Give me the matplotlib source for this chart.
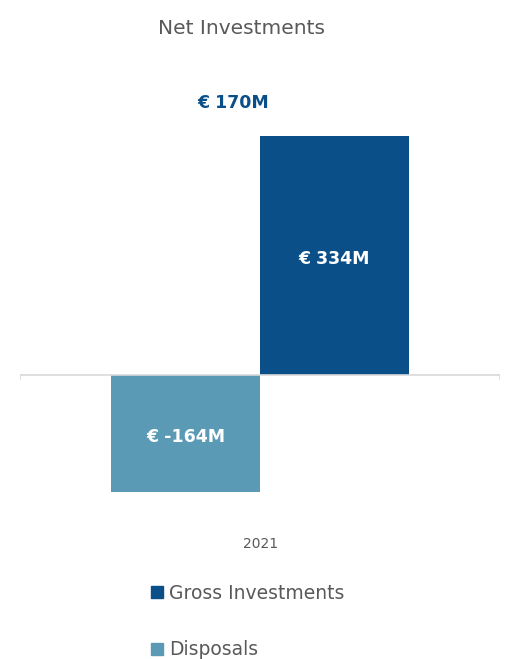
import matplotlib
matplotlib.use("Agg")
import matplotlib.pyplot as plt
from matplotlib.patches import Patch

plt.rcParams['font.family'] = ['DejaVu Sans']

category = "2021"
series = ["Disposals", "Gross Investments"]
values = [-164, 334]
colors = ["#5a9ab5", "#0a4f87"]
net = sum(values)

fig = plt.figure(figsize=(5.1, 6.59), dpi=100)
ax = fig.add_axes([20 / 510, 159 / 659, 480 / 510, 440 / 659])

width = 0.31
offsets = [-width / 2, width / 2]
for name, v, c, off in zip(series, values, colors, offsets):
    ax.bar(0.5 + off, v, width=width, color=c, label=name)
    ax.text(0.5 + off, v / 2 - 5, "€ %dM" % v, ha="center", va="center",
            color="white", fontsize=12.5, fontweight="bold")

ax.text(0.444, 380, "€ %dM" % net, ha="center", va="center",
        color="#0a4f87", fontsize=12.5, fontweight="bold")

ax.set_xlim(0, 1)
ax.set_ylim(-174.7, 440.2)
ax.axhline(0, color="#d9d9d9", lw=1.2)
ax.plot([0, 0], [0, -6], color="#d9d9d9", lw=1.2)
ax.plot([1, 1], [0, -6], color="#d9d9d9", lw=1.2)
for s in ax.spines.values():
    s.set_visible(False)
ax.set_xticks([])
ax.set_yticks([])

fig.text(261 / 510, 1 - 544 / 659, category, ha="center", va="center",
         color="#595959", fontsize=10)
fig.text(242 / 510, 1 - 28 / 659, "Net Investments", ha="center", va="center",
         color="#595959", fontsize=14.5)

handles = [Patch(color=colors[1], label=series[1]),
           Patch(color=colors[0], label=series[0])]
fig.legend(handles=handles, loc="upper left",
           bbox_to_anchor=(134 / 510, 1 - 567 / 659), frameon=False,
           fontsize=13.5, labelcolor="#595959", handlelength=0.62,
           handleheight=0.62, handletextpad=0.35, labelspacing=2.0)

fig.savefig("out.png", dpi=100)
